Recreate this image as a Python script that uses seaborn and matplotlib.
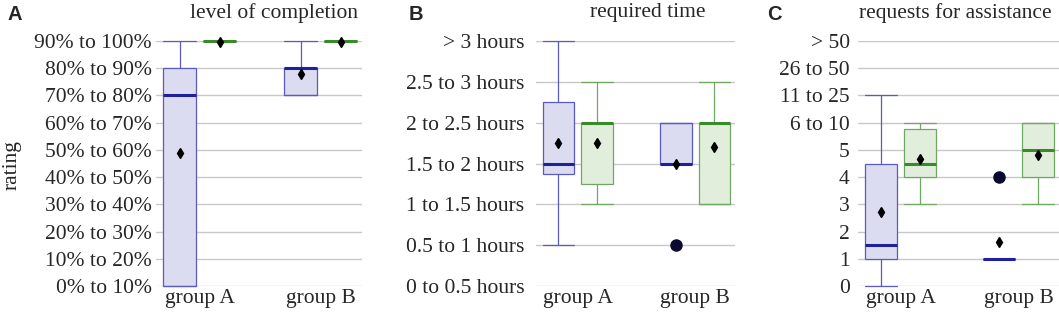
import matplotlib
matplotlib.use("Agg")
import matplotlib.pyplot as plt
import seaborn as sns

# ---------------- data ----------------
groups = ["group A", "group B"]

a_labels = ["0% to 10%", "10% to 20%", "20% to 30%", "30% to 40%", "40% to 50%",
            "50% to 60%", "60% to 70%", "70% to 80%", "80% to 90%", "90% to 100%"]
a_blue_whislo = [0, 7]
a_blue_q1 = [0, 7]
a_blue_med = [7, 8]
a_blue_q3 = [8, 8]
a_blue_whishi = [9, 9]
a_blue_mean = [4.88, 7.78]
a_blue_fliers = [[], []]
a_green_whislo = [9, 9]
a_green_q1 = [9, 9]
a_green_med = [9, 9]
a_green_q3 = [9, 9]
a_green_whishi = [9, 9]
a_green_mean = [8.98, 8.98]
a_green_fliers = [[], []]

b_labels = ["0 to 0.5 hours", "0.5 to 1 hours", "1 to 1.5 hours", "1.5 to 2 hours",
            "2 to 2.5 hours", "2.5 to 3 hours", "> 3 hours"]
b_blue_whislo = [1, 3]
b_blue_q1 = [2.75, 3]
b_blue_med = [3, 3]
b_blue_q3 = [4.5, 4]
b_blue_whishi = [6, 4]
b_blue_mean = [3.5, 3.0]
b_blue_fliers = [[], [1]]
b_green_whislo = [2, 2]
b_green_q1 = [2.5, 2]
b_green_med = [4, 4]
b_green_q3 = [4, 4]
b_green_whishi = [5, 5]
b_green_mean = [3.5, 3.4]
b_green_fliers = [[], []]

c_labels = ["0", "1", "2", "3", "4", "5", "6 to 10", "11 to 25", "26 to 50", "> 50"]
c_blue_whislo = [0, 1]
c_blue_q1 = [1, 1]
c_blue_med = [1.5, 1]
c_blue_q3 = [4.5, 1]
c_blue_whishi = [7, 1]
c_blue_mean = [2.73, 1.6]
c_blue_fliers = [[], [4]]
c_green_whislo = [3, 3]
c_green_q1 = [4, 4]
c_green_med = [4.5, 5]
c_green_q3 = [5.76, 6]
c_green_whishi = [6, 6]
c_green_mean = [4.67, 4.8]
c_green_fliers = [[], []]

titles = ["level of completion", "required time", "requests for assistance"]
panel_letters = ["A", "B", "C"]

# ---------------- style ----------------
sns.set_theme(style="white")
plt.rcParams["font.family"] = ["Liberation Serif", "DejaVu Serif"]
FS = 15.5

blue_edge = "#5a5ac0"
blue_fill = "#dcdcf0"
blue_med = "#20209a"
green_edge = "#6fa862"
green_fill = "#e2eedc"
green_med = "#3a8a2c"
grid_col = "#c8c8c8"

fig = plt.figure(figsize=(10.59, 3.14), dpi=100)
W, H = 1059, 314
ax_px = [(156, 206), (535.5, 199.5), (858, 201)]
ax_bottom = (H - 286) / H
ax_height = 245 / H
pads = [3, 8, 6]

def stats(whislo, q1, med, q3, whishi, mean, fliers):
    out = []
    for i in range(len(med)):
        out.append(dict(whislo=whislo[i], q1=q1[i], med=med[i], q3=q3[i],
                        whishi=whishi[i], mean=mean[i], fliers=fliers[i]))
    return out

panels = [
    (a_labels,
     stats(a_blue_whislo, a_blue_q1, a_blue_med, a_blue_q3, a_blue_whishi, a_blue_mean, a_blue_fliers),
     stats(a_green_whislo, a_green_q1, a_green_med, a_green_q3, a_green_whishi, a_green_mean, a_green_fliers)),
    (b_labels,
     stats(b_blue_whislo, b_blue_q1, b_blue_med, b_blue_q3, b_blue_whishi, b_blue_mean, b_blue_fliers),
     stats(b_green_whislo, b_green_q1, b_green_med, b_green_q3, b_green_whishi, b_green_mean, b_green_fliers)),
    (c_labels,
     stats(c_blue_whislo, c_blue_q1, c_blue_med, c_blue_q3, c_blue_whishi, c_blue_mean, c_blue_fliers),
     stats(c_green_whislo, c_green_q1, c_green_med, c_green_q3, c_green_whishi, c_green_mean, c_green_fliers)),
]

offset = 0.165
bw = 0.27

for k, (labels, sblue, sgreen) in enumerate(panels):
    x0, w = ax_px[k]
    ax = fig.add_axes([x0 / W, ax_bottom, w / W, ax_height])
    n = len(labels)
    ax.set_yticks(range(n))
    ax.set_yticklabels(labels, fontsize=FS)
    ax.yaxis.grid(True, color=grid_col, linewidth=1.0)
    ax.set_axisbelow(True)
    for s in ax.spines.values():
        s.set_visible(False)
    for stats_list, sign, ec, fc, mc in [(sblue, -1, blue_edge, blue_fill, blue_med),
                                          (sgreen, 1, green_edge, green_fill, green_med)]:
        pos = [i + sign * offset for i in range(len(groups))]
        ax.bxp(stats_list, positions=pos, widths=bw, patch_artist=True,
               showmeans=True, showfliers=True,
               boxprops=dict(facecolor=fc, edgecolor=ec, linewidth=0.9),
               whiskerprops=dict(color=ec, linewidth=0.9),
               capprops=dict(color=ec, linewidth=0.9),
               capwidths=bw,
               medianprops=dict(color=mc, linewidth=2.2, solid_capstyle="butt"),
               meanprops=dict(marker="d", markerfacecolor="black", markeredgecolor="black",
                              markersize=5),
               flierprops=dict(marker="o", markerfacecolor="#0a0a30", markeredgecolor="#0a0a30",
                               markersize=8),
               manage_ticks=False)
    ax.set_xlim(-0.36, 1.34)
    ax.set_ylim(0, n - 1)
    ax.set_xticks(range(len(groups)))
    ax.set_xticklabels(groups, fontsize=FS)
    ax.tick_params(axis="x", length=0, pad=2.5)
    ax.tick_params(axis="y", length=0, pad=pads[k])
    for art in ax.get_children():
        try:
            art.set_clip_on(False)
        except Exception:
            pass

# titles and panel letters
title_cx = [274, 648, 955]
letter_x = [7, 409, 767]
for k in range(3):
    fig.text(title_cx[k] / W, (H - 13) / H, titles[k], ha="center", va="center", fontsize=FS)
    fig.text(letter_x[k] / W, (H - 14) / H, panel_letters[k], ha="left", va="center",
             fontsize=14.5, fontweight="bold", family=["Liberation Sans", "DejaVu Sans"])

fig.text(12.5 / W, (H - 165) / H, "rating", rotation=90, ha="center", va="center", fontsize=FS)

fig.savefig("out.png", dpi=100)
